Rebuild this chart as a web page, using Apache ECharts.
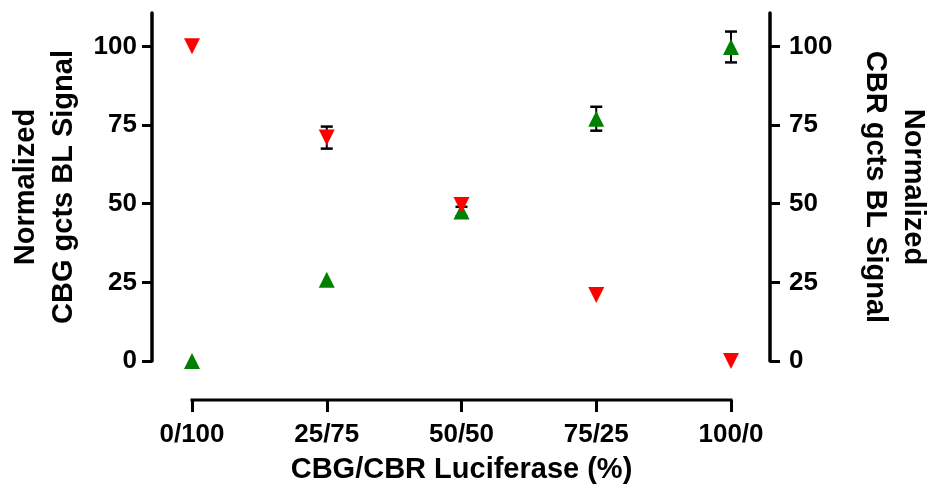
<!DOCTYPE html>
<html>
<head>
<meta charset="utf-8">
<script src="https://cdn.jsdelivr.net/npm/echarts@6/dist/echarts.min.js"></script>
<style>
html,body{margin:0;padding:0;background:#fff;}
#chart{width:928px;height:490px;}
</style>
</head>
<body>
<div id="chart"></div>
<script>
const categories = ['0/100', '25/75', '50/50', '75/25', '100/0'];
const cbgValues = [0, 25.8, 47.5, 77, 99.8];
const cbgErrors = [0, 0, 1.5, 3.8, 4.9];
const cbrValues = [100, 71, 49.6, 21, 0];
const cbrErrors = [0, 3.5, 0, 0, 0];
const yTicks = [0, 25, 50, 75, 100];
const yMax = 110.6;

const FONT = 'Liberation Sans, Arial, sans-serif';
const X_OFFSET = 39;

function errorData(vals, errs) {
  return vals.map((v, i) => [i, v, errs[i]]);
}

function errorRender(params, api) {
  const x = api.value(0), y = api.value(1), e = api.value(2);
  if (!e) return null;
  const top = api.coord([x, y + e]);
  const bot = api.coord([x, y - e]);
  const hw = 6;
  const style = {stroke: '#000', lineWidth: 2.5, fill: null};
  return {
    type: 'group',
    children: [
      {type: 'line', shape: {x1: top[0], y1: top[1], x2: bot[0], y2: bot[1]}, style: {stroke: '#000', lineWidth: 2}},
      {type: 'line', shape: {x1: top[0] - hw, y1: top[1], x2: top[0] + hw, y2: top[1]}, style: style},
      {type: 'line', shape: {x1: bot[0] - hw, y1: bot[1], x2: bot[0] + hw, y2: bot[1]}, style: style}
    ]
  };
}

// x-axis baseline spanning only first..last category (as in the reference)
function baselineRender(params, api) {
  const a = api.coord([0, 0]);
  const b = api.coord([categories.length - 1, 0]);
  return {
    type: 'line',
    shape: {x1: a[0] - 1.5, y1: a[1] + X_OFFSET, x2: b[0] + 1.5, y2: b[1] + X_OFFSET},
    style: {stroke: '#000', lineWidth: 3}
  };
}

const yAxisCommon = {
  type: 'value',
  min: 0,
  max: yMax,
  splitLine: {show: false},
  axisLine: {show: true, onZero: false, lineStyle: {color: '#000', width: 3.5}},
  axisTick: {show: true, length: 10, customValues: yTicks, lineStyle: {color: '#000', width: 3}},
  axisLabel: {customValues: yTicks, color: '#000', fontFamily: FONT, fontWeight: 'bold', fontSize: 26},
  nameLocation: 'middle',
  nameTextStyle: {color: '#000', fontFamily: FONT, fontWeight: 'bold', fontSize: 29, lineHeight: 38}
};

const chart = echarts.init(document.getElementById('chart'), null, {renderer: 'canvas'});
chart.setOption({
  animation: false,
  backgroundColor: '#fff',
  grid: {left: 192, right: 197, top: 13, bottom: 129, containLabel: false, outerBoundsMode: 'none'},
  xAxis: {
    type: 'category',
    data: categories,
    boundaryGap: false,
    position: 'bottom',
    offset: X_OFFSET,
    axisLine: {show: false, onZero: false},
    axisTick: {show: true, alignWithLabel: true, length: 12, inside: false, lineStyle: {color: '#000', width: 3}},
    axisLabel: {color: '#000', fontFamily: FONT, fontWeight: 'bold', fontSize: 26, margin: 22},
    splitLine: {show: false},
    name: 'CBG/CBR Luciferase (%)',
    nameLocation: 'middle',
    nameGap: 55,
    nameTextStyle: {color: '#000', fontFamily: FONT, fontWeight: 'bold', fontSize: 29}
  },
  yAxis: [
    Object.assign({}, yAxisCommon, {
      position: 'left', offset: 40,
      axisLabel: Object.assign({}, yAxisCommon.axisLabel, {margin: 15}),
      name: 'Normalized\nCBG gcts BL Signal', nameGap: 69, nameRotate: 90
    }),
    Object.assign({}, yAxisCommon, {
      position: 'right', offset: 39,
      axisLabel: Object.assign({}, yAxisCommon.axisLabel, {margin: 19}),
      name: 'Normalized\nCBR gcts BL Signal', nameGap: 86, nameRotate: -90
    })
  ],
  series: [
    {
      type: 'custom', name: 'x baseline', xAxisIndex: 0, yAxisIndex: 0, z: 0, clip: false,
      silent: true, renderItem: baselineRender, data: [[0, 0]]
    },
    {
      type: 'custom', name: 'CBG err', xAxisIndex: 0, yAxisIndex: 0, z: 1,
      renderItem: errorRender, data: errorData(cbgValues, cbgErrors)
    },
    {
      type: 'scatter', name: 'CBG', xAxisIndex: 0, yAxisIndex: 0, z: 2,
      symbol: 'triangle', symbolSize: [16, 16],
      itemStyle: {color: '#008000', opacity: 1},
      data: cbgValues.map((v, i) => [i, v])
    },
    {
      type: 'custom', name: 'CBR err', xAxisIndex: 0, yAxisIndex: 1, z: 3,
      renderItem: errorRender, data: errorData(cbrValues, cbrErrors)
    },
    {
      type: 'scatter', name: 'CBR', xAxisIndex: 0, yAxisIndex: 1, z: 4,
      symbol: 'triangle', symbolRotate: 180, symbolSize: [16, 16],
      itemStyle: {color: '#ff0000', opacity: 1},
      data: cbrValues.map((v, i) => [i, v])
    }
  ]
});
</script>
</body>
</html>
